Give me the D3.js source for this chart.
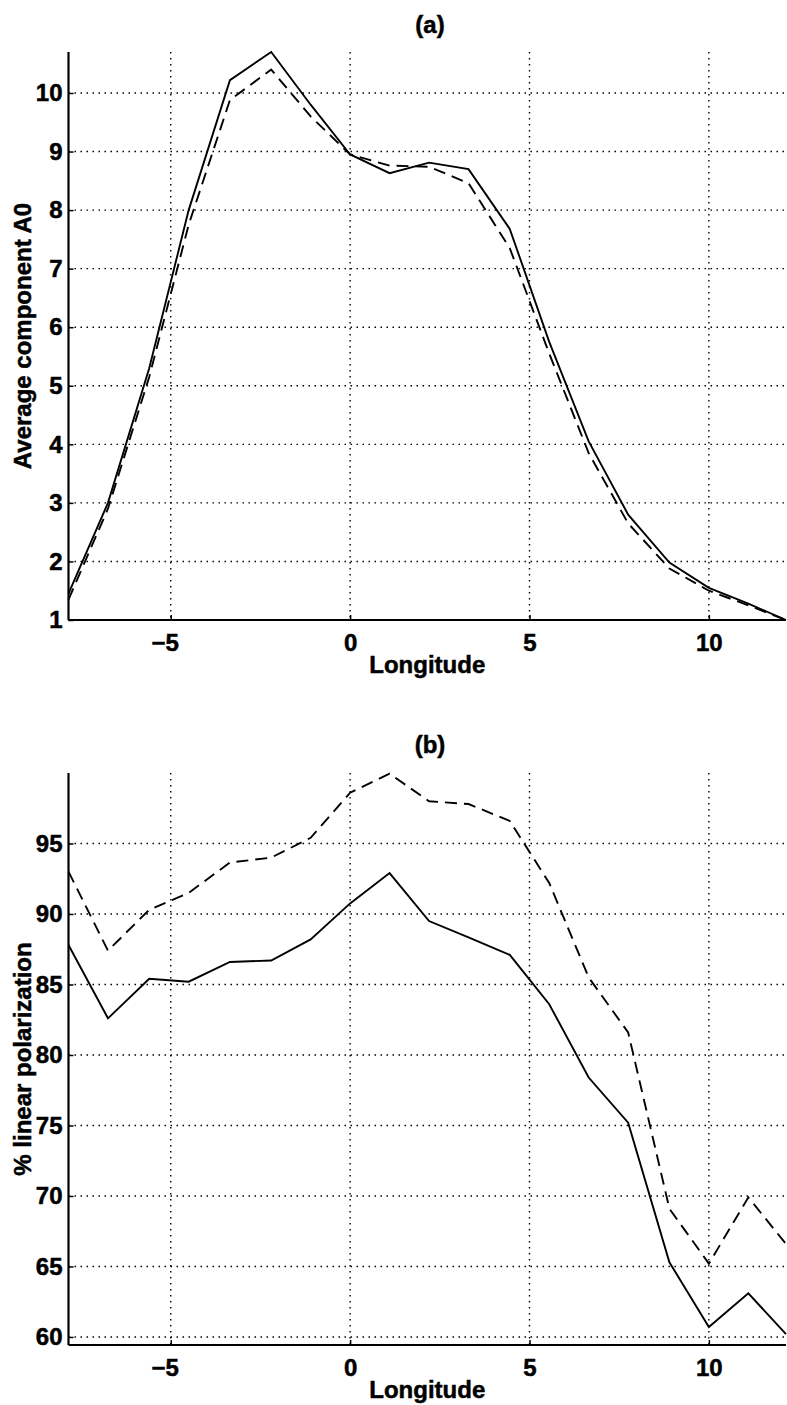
<!DOCTYPE html>
<html>
<head>
<meta charset="utf-8">
<script src="https://cdn.jsdelivr.net/npm/d3@7"></script>
<style>
  html, body { margin: 0; padding: 0; background: #fff; }
  svg text { font-family: "Liberation Sans", Arial, Helvetica, sans-serif; font-weight: bold; fill: #000; stroke: #000; stroke-width: 0.5px; }
</style>
</head>
<body>
<svg id="chart" width="787" height="1405"></svg>
<script>
// ---- data ----
const longitude = [-7.85, -6.75, -5.6, -4.5, -3.35, -2.2, -1.1, 0, 1.1, 2.2, 3.3, 4.45, 5.55, 6.65, 7.75, 8.9, 10.0, 11.1, 12.15];

const a0Solid  = [1.45, 3.0, 5.3, 8.0, 10.22, 10.7, 9.8, 8.95, 8.63, 8.81, 8.7, 7.68, 5.75, 4.05, 2.8, 1.98, 1.55, 1.28, 1.0];
const a0Dashed = [1.35, 2.9, 5.15, 7.75, 9.88, 10.4, 9.6, 8.95, 8.76, 8.74, 8.46, 7.35, 5.55, 3.85, 2.65, 1.88, 1.5, 1.25, 1.0];

const polSolid  = [87.8, 82.6, 85.4, 85.2, 86.6, 86.7, 88.2, 90.75, 92.9, 89.5, 88.35, 87.1, 83.6, 78.4, 75.2, 65.3, 60.7, 63.1, 60.2];
const polDashed = [93.0, 87.4, 90.3, 91.5, 93.65, 94.0, 95.4, 98.6, 99.95, 98.0, 97.8, 96.6, 92.2, 85.5, 81.6, 69.1, 65.2, 69.9, 66.6];

const xTicks = [-5, 0, 5, 10];
const a0Ticks = [1, 2, 3, 4, 5, 6, 7, 8, 9, 10];
const polTicks = [60, 65, 70, 75, 80, 85, 90, 95];

const panels = [
  { title: "(a)", ylabel: "Average component A0", solid: a0Solid, dashed: a0Dashed,
    yDomain: [1, 10.7], yTicks: a0Ticks, top: 52, bottom: 620, titleY: 33 },
  { title: "(b)", ylabel: "% linear polarization", solid: polSolid, dashed: polDashed,
    yDomain: [59.43, 100], yTicks: polTicks, top: 773, bottom: 1345, titleY: 753 }
];

const svg = d3.select("#chart");
const left = 68.5, right = 786;
const fs = 24;

const x = d3.scaleLinear().domain([-7.85, 12.15]).range([left, right]);

panels.forEach((p, pi) => {
  const y = d3.scaleLinear().domain(p.yDomain).range([p.bottom, p.top]);
  const g = svg.append("g");

  // grid
  g.append("g").selectAll("line.h").data(p.yTicks).join("line")
    .attr("x1", left).attr("x2", right)
    .attr("y1", d => y(d)).attr("y2", d => y(d))
    .attr("stroke", "#000").attr("stroke-width", 1.4)
    .attr("stroke-dasharray", "1.5,4.5");
  g.append("g").selectAll("line.v").data(xTicks).join("line")
    .attr("x1", d => x(d)).attr("x2", d => x(d))
    .attr("y1", p.top).attr("y2", p.bottom)
    .attr("stroke", "#000").attr("stroke-width", 1.4)
    .attr("stroke-dasharray", "1.5,4.5");

  // lines
  const line = d3.line().x((d, i) => x(longitude[i])).y(d => y(d));
  g.append("path").datum(p.dashed).attr("d", line)
    .attr("fill", "none").attr("stroke", "#000").attr("stroke-width", 1.9)
    .attr("stroke-dasharray", "12,7");
  g.append("path").datum(p.solid).attr("d", line)
    .attr("fill", "none").attr("stroke", "#000").attr("stroke-width", 1.9);

  // axes
  const yAxis = d3.axisLeft(y).tickValues(p.yTicks).tickFormat(d3.format("d"))
    .tickSizeInner(-5).tickSizeOuter(0).tickPadding(6);
  const ya = g.append("g").attr("transform", `translate(${left},0)`).call(yAxis);
  const xAxis = d3.axisBottom(x).tickValues(xTicks).tickFormat(d => d < 0 ? "\u2212" + Math.abs(d) : d)
    .tickSizeInner(-5).tickSizeOuter(0).tickPadding(14);
  const xa = g.append("g").attr("transform", `translate(0,${p.bottom})`).call(xAxis);
  [ya, xa].forEach(a => {
    a.select(".domain").attr("stroke", "#000").attr("stroke-width", 2.2);
    a.selectAll(".tick line").attr("stroke", "#000").attr("stroke-width", 1.5);
    a.selectAll("text").style("font-size", fs + "px").style("font-weight", "bold")
      .attr("fill", "#000");
  });
  xa.selectAll(".tick text").filter(d => d < 0).attr("dx", -6);
  xa.select(".domain").attr("d", `M${left},0H${right}`);
  ya.select(".domain").attr("d", `M0,${p.top}V${p.bottom}`);

  // title
  g.append("text").attr("x", 430).attr("y", p.titleY).attr("text-anchor", "middle")
    .style("font-size", fs + "px").text(p.title);
  // x label
  g.append("text").attr("x", (left + right) / 2).attr("y", p.bottom + 53)
    .attr("text-anchor", "middle").style("font-size", fs + "px").text("Longitude");
  // y label
  g.append("text")
    .attr("transform", `translate(31,${(p.top + p.bottom) / 2}) rotate(-90)`)
    .attr("text-anchor", "middle").style("font-size", fs + "px").text(p.ylabel);
});
</script>
</body>
</html>
